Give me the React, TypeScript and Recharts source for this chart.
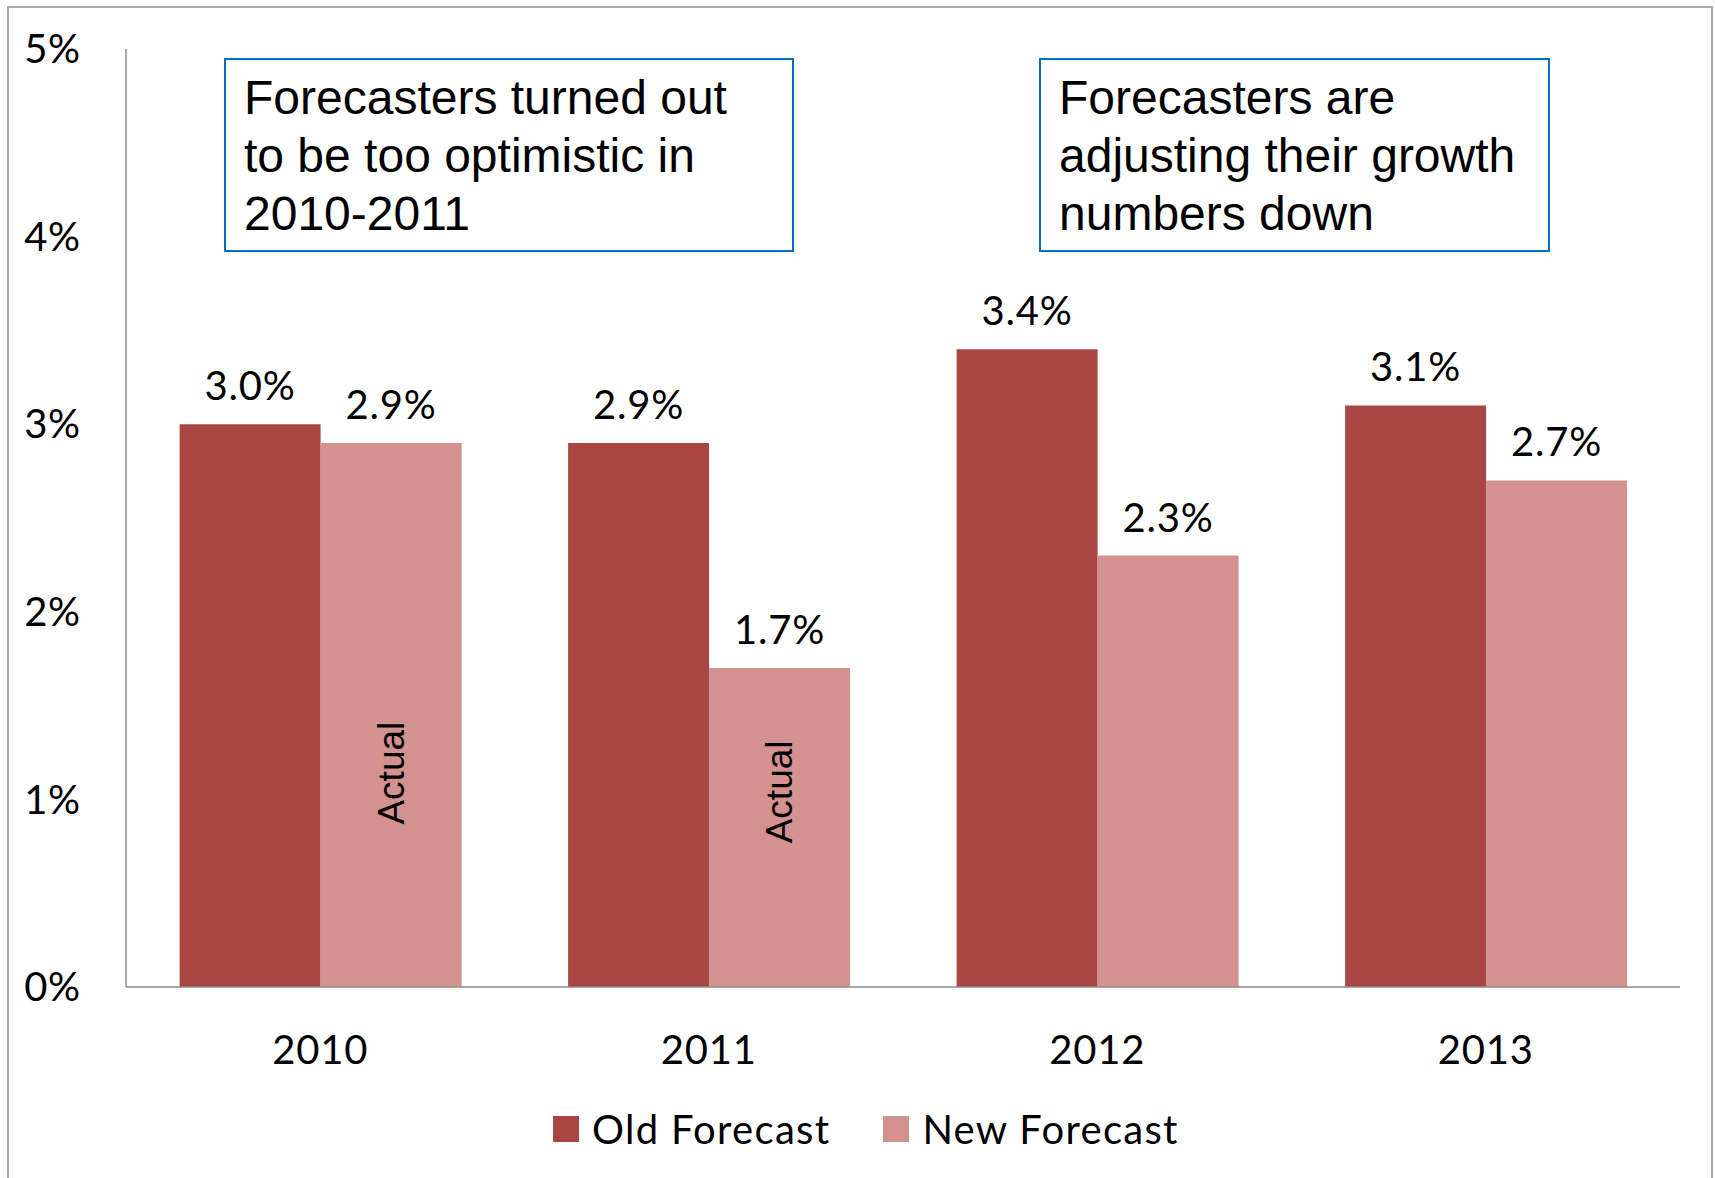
import { BarChart, Bar, XAxis, YAxis, Legend, LabelList } from "recharts";

const years = ["2010", "2011", "2012", "2013"];
const oldForecast = [3.0, 2.9, 3.4, 3.1];
const newForecast = [2.9, 1.7, 2.3, 2.7];
// where the rotated "Actual" note sits inside the new-forecast bar (value units)
const actualNoteAt = [1.14, 1.04, null, null];
const yTicks = [0, 1, 2, 3, 4, 5];

const OLD_COLOR = "#A94644";
const NEW_COLOR = "#D39290";
const AXIS_COLOR = "#8c8c8c";
const LABEL_FONT = "Lato, 'Open Sans', sans-serif";
const NOTE_FONT = "'Liberation Sans', Arial, sans-serif";

const data = years.map((year, i) => ({
  year,
  oldForecast: oldForecast[i],
  newForecast: newForecast[i],
}));

const pct = (v: number) => `${v.toFixed(1)}%`;

const labelStyle = { fontFamily: LABEL_FONT, fontSize: 40, fill: "#000", letterSpacing: 0.8 };

function ActualNote(props: any) {
  const { x, y, width, height, value, index } = props;
  const at = actualNoteAt[index];
  if (at == null || !value) return null;
  const cx = x + width / 2;
  const cy = y + height - (at / value) * height;
  return (
    <text
      x={cx}
      y={cy}
      transform={`rotate(-90 ${cx} ${cy})`}
      textAnchor="middle"
      dominantBaseline="central"
      fontFamily={NOTE_FONT}
      fontSize={37}
      fill="#000"
    >
      Actual
    </text>
  );
}

function LegendBox() {
  const items = [
    { name: "Old Forecast", color: OLD_COLOR },
    { name: "New Forecast", color: NEW_COLOR },
  ];
  return (
    <div style={{ display: "flex", alignItems: "center", height: 50 }}>
      {items.map((it, i) => (
        <div
          key={it.name}
          style={{ display: "flex", alignItems: "center", marginLeft: i ? 53 : 0 }}
        >
          <span style={{ width: 26, height: 26, background: it.color, marginRight: 13 }} />
          <span
            style={{
              fontFamily: LABEL_FONT,
              fontSize: 40,
              lineHeight: 1,
              letterSpacing: 1.3,
              color: "#000",
            }}
          >
            {it.name}
          </span>
        </div>
      ))}
    </div>
  );
}

const noteBox: React.CSSProperties = {
  position: "absolute",
  top: 58,
  height: 194,
  boxSizing: "border-box",
  border: "2px solid #0070C0",
  padding: "9px 0 0 18px",
  fontFamily: NOTE_FONT,
  fontSize: 48,
  lineHeight: "58px",
  color: "#000",
  background: "#fff",
};

export default function App() {
  return (
    <div style={{ position: "relative", width: 1715, height: 1178, overflow: "hidden", background: "#fff" }}>
      <style>{`body{margin:0;overflow:hidden}`}</style>
      <div
        style={{
          position: "absolute",
          left: 7,
          top: 6,
          width: 1706,
          height: 1190,
          boxSizing: "border-box",
          border: "2px solid #a6a6a6",
        }}
      />
      <div style={{ position: "absolute", left: 0, top: 0 }}>
        <BarChart
          width={1715}
          height={1178}
          data={data}
          margin={{ top: 49, right: 35, bottom: 0, left: 0 }}
          barCategoryGap="13.8%"
          barGap={0}
        >
          <XAxis
            dataKey="year"
            height={191}
            tickSize={0}
            tickMargin={49}
            axisLine={{ stroke: AXIS_COLOR, strokeWidth: 1.5 }}
            tick={labelStyle}
          />
          <YAxis
            width={126}
            domain={[0, 5]}
            ticks={yTicks}
            tickFormatter={(v: number) => `${v}%`}
            tickSize={0}
            tickMargin={45}
            axisLine={{ stroke: AXIS_COLOR, strokeWidth: 1.5 }}
            tick={labelStyle}
          />
          <Legend
            layout="horizontal"
            verticalAlign="middle"
            align="center"
            content={() => <LegendBox />}
            wrapperStyle={{ top: 1104, left: 553, width: 700, height: 50 }}
          />
          <Bar dataKey="oldForecast" name="Old Forecast" fill={OLD_COLOR} isAnimationActive={false}>
            <LabelList
              dataKey="oldForecast"
              position="top"
              offset={24}
              formatter={(v: any) => pct(Number(v))}
              style={labelStyle}
            />
          </Bar>
          <Bar dataKey="newForecast" name="New Forecast" fill={NEW_COLOR} isAnimationActive={false}>
            <LabelList
              dataKey="newForecast"
              position="top"
              offset={24}
              formatter={(v: any) => pct(Number(v))}
              style={labelStyle}
            />
            <LabelList dataKey="newForecast" content={ActualNote} />
          </Bar>
        </BarChart>
      </div>
      <div style={{ ...noteBox, left: 224, width: 570 }}>
        Forecasters turned out
        <br />
        to be too optimistic in
        <br />
        2010-2011
      </div>
      <div style={{ ...noteBox, left: 1039, width: 511 }}>
        Forecasters are
        <br />
        adjusting their growth
        <br />
        numbers down
      </div>
    </div>
  );
}
